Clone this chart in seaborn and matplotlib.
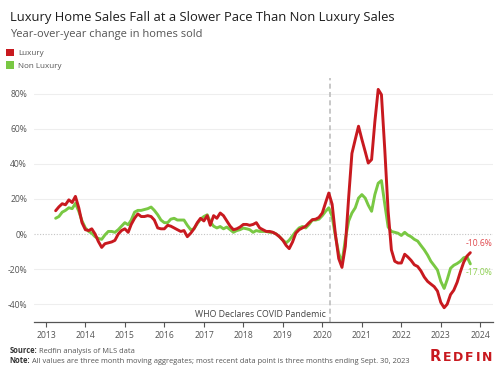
import matplotlib
matplotlib.use("Agg")
import numpy as np
import pandas as pd
import matplotlib.pyplot as plt
import matplotlib.dates as mdates
from matplotlib.patches import Patch
import seaborn as sns

# === DATA : year-over-year change in homes sold (%), monthly, Mar 2013 - Sep 2023 ===
first_month = "2013-03-31"
luxury = [
    13.3, 15.5, 17.3, 16.7, 19.5, 18.0, 21.5, 15.0, 6.5, 2.5,            # 2013
    2.0, 3.0, 0.0, -4.2, -7.6, -5.5, -5.0, -4.5, -3.6, 0.0, 2.0, 3.0,     # 2014
    1.0, 5.5, 9.0, 11.5, 10.0, 10.0, 10.5, 10.0, 8.0, 3.5, 3.0, 3.0,      # 2015
    5.0, 4.5, 3.5, 2.5, 1.5, 2.0, -1.5, 0.5, 3.0, 6.5, 9.0, 7.5,          # 2016
    10.5, 5.0, 10.5, 9.0, 12.0, 10.5, 7.5, 4.5, 2.5, 3.0, 4.0, 5.5,       # 2017
    5.5, 5.0, 5.5, 6.5, 3.5, 2.5, 1.5, 1.5, 1.0, 0.0, -1.5, -3.5,         # 2018
    -6.5, -8.3, -4.5, 0.5, 2.5, 3.5, 4.5, 6.5, 8.2, 8.5, 9.5, 12.0,       # 2019
    18.0, 23.4, 17.0, 0.0, -14.0, -19.0, -7.0, 21.0, 46.0, 54.0, 61.5, 54.0,   # 2020
    47.0, 40.5, 42.5, 64.0, 82.5, 79.5, 48.0, 13.0, -9.0, -15.5, -16.5, -16.5, # 2021
    -11.5, -13.0, -15.0, -17.5, -18.5, -21.0, -24.5, -27.0, -28.5, -30.0, -32.5, -39.0,  # 2022
    -42.0, -40.0, -34.5, -32.0, -27.5, -21.5, -16.0, -12.5, -10.6,      # 2023
]
non_luxury = [
    9.0, 10.0, 12.5, 13.5, 15.0, 14.5, 17.5, 13.0, 7.5, 3.5,             # 2013
    1.5, 0.5, -1.5, -2.5, -3.0, -0.5, 1.5, 1.5, 1.0, 2.5, 4.5, 6.5,       # 2014
    5.3, 8.0, 12.5, 13.5, 13.5, 14.0, 14.5, 15.4, 13.5, 11.0, 8.0, 6.5,   # 2015
    6.5, 8.5, 9.0, 8.0, 8.0, 8.0, 5.0, 2.5, 3.0, 6.0, 8.5, 10.0,          # 2016
    11.0, 7.0, 4.5, 3.5, 4.3, 3.0, 4.0, 2.5, 1.0, 2.0, 2.5, 3.4,          # 2017
    3.0, 2.5, 1.0, 2.0, 1.5, 1.5, 1.5, 1.0, 1.0, 0.0, -1.5, -3.5,         # 2018
    -5.0, -3.5, -1.0, 1.5, 3.5, 4.3, 3.5, 5.5, 8.0, 8.0, 8.5, 10.5,       # 2019
    13.0, 15.0, 10.0, -1.0, -11.0, -16.5, -3.0, 7.5, 12.0, 15.0, 20.5, 22.5,   # 2020
    20.5, 16.5, 13.0, 22.5, 29.0, 30.5, 17.0, 4.0, 1.5, 1.0, 0.5, -0.8,   # 2021
    1.0, -0.5, -1.5, -3.0, -4.0, -6.5, -9.0, -12.0, -15.5, -18.0, -20.5, -27.0,  # 2022
    -31.0, -26.0, -19.5, -17.8, -16.8, -15.5, -13.5, -13.0, -17.0,      # 2023
]
series_names = ["Luxury", "Non Luxury"]
y_ticks = [-40, -20, 0, 20, 40, 60, 80]
year_ticks = list(range(2013, 2025))
covid_date = "2020-03-11"

# === COLORS ===
palette = {"Luxury": "#c8191f", "Non Luxury": "#79c843"}
label_colors = {"Luxury": "#e0484d", "Non Luxury": "#8ccf4f"}

dates = pd.date_range(first_month, periods=len(luxury), freq="ME")
df = pd.concat([
    pd.DataFrame({"date": dates, "change": luxury, "type": "Luxury"}),
    pd.DataFrame({"date": dates, "change": non_luxury, "type": "Non Luxury"}),
], ignore_index=True)

# === FIGURE ===
sns.set_theme(style="white")
plt.rcParams["font.family"] = ["Open Sans", "DejaVu Sans"]
plt.rcParams["lines.solid_joinstyle"] = "round"
plt.rcParams["lines.solid_capstyle"] = "round"

fig = plt.figure(figsize=(5, 3.75), dpi=100)
ax = fig.add_axes([0.068, 0.142, 0.917, 0.65])

# green first so luxury sits on top
sns.lineplot(data=df, x="date", y="change", hue="type", hue_order=["Non Luxury", "Luxury"],
             palette=palette, linewidth=2.1, ax=ax, legend=False)

ax.set_ylim(-50, 89)
ax.set_xlim(pd.Timestamp("2012-09-12"), pd.Timestamp("2024-04-22"))
ax.set_xlabel("")
ax.set_ylabel("")

# gridlines
for v in y_ticks:
    if v == 0:
        ax.axhline(0, color="#c4c4c4", lw=0.8, ls=(0, (1, 1.5)), zorder=0)
    else:
        ax.axhline(v, color="#eeeeee", lw=0.8, zorder=0)

ax.set_yticks(y_ticks)
ax.set_yticklabels([f"{v}%" for v in y_ticks])
ax.tick_params(axis="y", length=0, pad=5, labelsize=6.2, labelcolor="#555555")

ax.set_xticks([pd.Timestamp(f"{y}-01-01") for y in year_ticks])
ax.xaxis.set_major_formatter(mdates.DateFormatter("%Y"))
ax.tick_params(axis="x", length=3.5, width=0.8, color="#555555", pad=3,
               labelsize=6.2, labelcolor="#555555", bottom=True)

for s in ["top", "right", "left"]:
    ax.spines[s].set_visible(False)
ax.spines["bottom"].set_color("#555555")
ax.spines["bottom"].set_linewidth(0.9)

# COVID reference line
ax.axvline(pd.Timestamp(covid_date), color="#bdbdbd", lw=1.2, ls=(0, (3, 2)), zorder=1)
ax.annotate("WHO Declares COVID Pandemic", xy=(pd.Timestamp(covid_date), -46),
            xytext=(-3, 0), textcoords="offset points", ha="right", va="center",
            fontsize=6.3, color="#444444")

# end labels
ax.annotate(f"{luxury[-1]:.1f}%", xy=(dates[-1], luxury[-1]), xytext=(6.3, 6.5),
            textcoords="offset points", ha="center", va="center",
            fontsize=6.2, color=label_colors["Luxury"])
ax.annotate(f"{non_luxury[-1]:.1f}%", xy=(dates[-1], non_luxury[-1]), xytext=(6.3, -6.3),
            textcoords="offset points", ha="center", va="center",
            fontsize=6.2, color=label_colors["Non Luxury"])

# === TITLES ===
fig.text(0.02, 1 - 17 / 375, "Luxury Home Sales Fall at a Slower Pace Than Non Luxury Sales",
         fontsize=9.4, color="#1e1e1e", va="center", ha="left")
fig.text(0.02, 1 - 34 / 375, "Year-over-year change in homes sold",
         fontsize=8.0, color="#555555", va="center", ha="left")

# legend
handles = [Patch(facecolor=palette[n], edgecolor="none", label=n) for n in series_names]
fig.legend(handles=handles, loc="upper left", bbox_to_anchor=(0.012, 1 - 49 / 375),
           frameon=False, fontsize=5.8, labelcolor="#555555", handlelength=1.0,
           handleheight=1.0, handletextpad=0.5, labelspacing=0.5, borderpad=0, borderaxespad=0)

# === FOOTER ===
renderer = fig.canvas.get_renderer()
for y_px, bold, rest in [(353, "Source:", " Redfin analysis of MLS data"),
                         (363, "Note:", " All values are three month moving aggregates; most recent data point is three months ending Sept. 30, 2023")]:
    t = fig.text(9.3 / 500, 1 - y_px / 375, bold, fontsize=5.45, color="#333333",
                 fontweight="bold", va="baseline", ha="left")
    w = t.get_window_extent(renderer).width
    fig.text((9.3 + w) / 500, 1 - y_px / 375, rest, fontsize=5.45, color="#555555",
             va="baseline", ha="left")

# REDFIN logo, letters spread over the logo width
letters = ["R", "E", "D", "F", "I", "N"]
sizes = [10.5, 9.0, 9.0, 9.0, 9.0, 9.0]
texts = [fig.text(0, 1 - 361 / 375, c, fontsize=s, fontweight="bold", color="#c8191f",
                  family="DejaVu Sans", va="baseline", ha="left") for c, s in zip(letters, sizes)]
widths = [t.get_window_extent(renderer).width for t in texts]
gap = (492.7 - 429.3 - sum(widths)) / (len(letters) - 1)
x = 429.3
for t, w in zip(texts, widths):
    t.set_x(x / 500)
    x += w + gap

fig.savefig("out.png", dpi=100)
